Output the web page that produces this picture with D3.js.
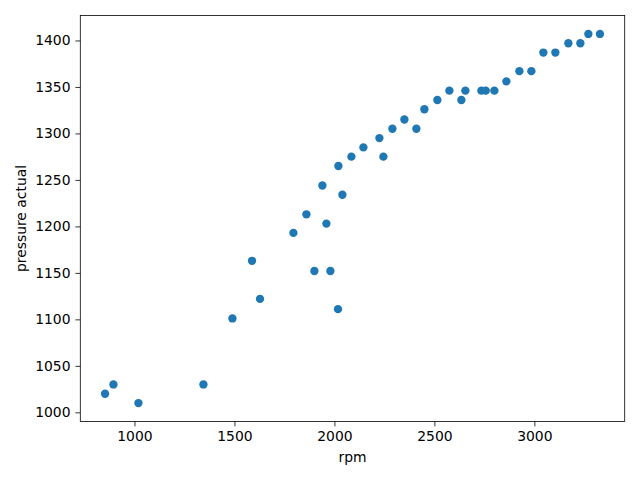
<!DOCTYPE html>
<html><head><meta charset="utf-8">
<script src="https://cdn.jsdelivr.net/npm/d3@7"></script>
<style>body{margin:0;background:#fff}svg{display:block}text{font-family:"DejaVu Sans",sans-serif}</style>
</head><body>
<svg id="c" width="640" height="480"></svg>
<script>
const rpm = [853, 895, 1020, 1345, 1490, 1588, 1628, 1795, 1860, 1900, 1940, 1960, 1980, 2018, 2020, 2040, 2085, 2145, 2225, 2245, 2290, 2350, 2410, 2450, 2515, 2575, 2635, 2655, 2735, 2757, 2800, 2860, 2925, 2985, 3045, 3105, 3170, 3230, 3270, 3328];
const pressure = [1020, 1030, 1010, 1030, 1101, 1163, 1122, 1193, 1213, 1152, 1244, 1203, 1152, 1111, 1265, 1234, 1275, 1285, 1295, 1275, 1305, 1315, 1305, 1326, 1336, 1346, 1336, 1346, 1346, 1346, 1346, 1356, 1367, 1367, 1387, 1387, 1397, 1397, 1407, 1407];
const xTicks = [1000, 1500, 2000, 2500, 3000];
const yTicks = [1000, 1050, 1100, 1150, 1200, 1250, 1300, 1350, 1400];

const L = 80.3, R = 624.7, T = 15.5, B = 421.5;
const svg = d3.select("#c");
function padded(arr) {
  const [a, b] = d3.extent(arr); const p = (b - a) * 0.05; return [a - p, b + p];
}
const x = d3.scaleLinear().domain(padded(rpm)).range([L, R]);
const y = d3.scaleLinear().domain(padded(pressure)).range([B, T]);

const fs = 13.9;
const gx = svg.append("g").attr("transform", `translate(0,${B})`)
  .call(d3.axisBottom(x).tickValues(xTicks).tickFormat(d3.format("d")).tickSizeOuter(0).tickSize(4.9).tickPadding(4.9));
const gy = svg.append("g").attr("transform", `translate(${L},0)`)
  .call(d3.axisLeft(y).tickValues(yTicks).tickFormat(d3.format("d")).tickSizeOuter(0).tickSize(4.9).tickPadding(4.9));
[gx, gy].forEach(g => {
  g.select(".domain").remove();
  g.selectAll("line").attr("stroke", "#000").attr("stroke-width", 0.8);
  g.selectAll("text").attr("font-size", fs).attr("fill", "#000").attr("font-family", "DejaVu Sans");
});

svg.append("g").selectAll("circle").data(rpm.map((d, i) => [d, pressure[i]])).join("circle")
  .attr("cx", d => x(d[0])).attr("cy", d => y(d[1])).attr("r", 4.17).attr("fill", "#1f77b4");

svg.append("rect").attr("x", L).attr("y", T).attr("width", R - L).attr("height", B - T)
  .attr("fill", "none").attr("stroke", "#000").attr("stroke-width", 0.8);

svg.append("text").attr("x", (L + R) / 2).attr("y", 462).attr("text-anchor", "middle")
  .attr("font-size", fs).text("rpm");
svg.append("text").attr("transform", `translate(26,${(T + B) / 2}) rotate(-90)`).attr("text-anchor", "middle")
  .attr("font-size", fs).text("pressure actual");
</script>
</body></html>
